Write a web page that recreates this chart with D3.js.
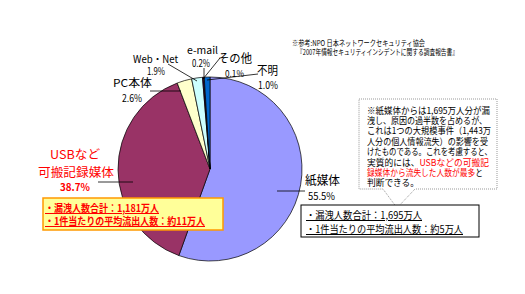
<!DOCTYPE html>
<html>
<head>
<meta charset="utf-8">
<script src="https://d3js.org/d3.v7.min.js"></script>
<style>
  body { margin: 0; background: #fff; }
  svg text { font-family: "Noto Sans CJK JP", "Noto Sans", sans-serif; }
</style>
</head>
<body>
<svg id="chart" width="525" height="294"></svg>
<script>
// slices clockwise from 12 o'clock
const categories = ['紙媒体', 'USBなど可搬記録媒体', 'PC本体', 'Web・Net', 'e-mail', 'その他', '不明'];
const shares = [55.5, 38.7, 2.6, 1.9, 0.2, 0.1, 1.0];
const fills = ['#9999FF', '#993366', '#FFFFCC', '#CCFFFF', '#660066', '#FF8080', '#0066CC'];

const noteLines = ['※参考:NPO  日本ネットワークセキュリティ協会', '『2007年情報セキュリティインシデントに関する調査報告書』'];
const usbBox = ['・漏洩人数合計：1,181万人', '・1件当たりの平均流出人数：約11万人'];
const paperBox = ['・漏洩人数合計：1,695万人', '・1件当たりの平均流出人数：約5万人'];
const calloutLines = [
  [['※紙媒体からは1,695万人分が漏', '#000']],
  [['洩し、原因の過半数を占めるが、', '#000']],
  [['これは1つの大規模事件（1,443万', '#000']],
  [['人分の個人情報流失）の影響を受', '#000']],
  [['けたものである。これを考慮すると、', '#000']],
  [['実質的には、', '#000'], ['USBなどの可搬記', '#FF0000']],
  [['録媒体から流失した人数が最多', '#FF0000'], ['と', '#000']],
  [['判断できる。', '#000']]
];

const svg = d3.select('#chart');
const cx = 210, cy = 169, r = 92;

const pie = d3.pie().sort(null).value(d => d)(shares);
const arc = d3.arc().innerRadius(0).outerRadius(r);

svg.append('g')
  .attr('transform', `translate(${cx},${cy})`)
  .selectAll('path')
  .data(pie)
  .join('path')
  .attr('d', arc)
  .attr('fill', (d, i) => fills[i])
  .attr('stroke', '#000')
  .attr('stroke-width', 0.7);

// leader lines
const leaders = [
  [277, 191, 305, 191],
  [98, 182, 133, 182],
  [150, 91, 181, 91],
  [168, 64, 197, 81],
  [204, 68, 204, 79],
  [220, 58, 203, 79],
  [207, 80, 258, 74]
];
svg.append('g').selectAll('line').data(leaders).join('line')
  .attr('x1', d => d[0]).attr('y1', d => d[1])
  .attr('x2', d => d[2]).attr('y2', d => d[3])
  .attr('stroke', '#000').attr('stroke-width', 0.8);

function label(x, y, txt, size, opts = {}) {
  const t = svg.append('text')
    .attr('x', x).attr('y', y)
    .attr('font-size', size)
    .attr('fill', opts.fill || '#000')
    .attr('font-weight', opts.bold ? 'bold' : null)
    .attr('text-anchor', opts.anchor || 'start')
    .text(txt);
  if (opts.len) t.attr('textLength', opts.len).attr('lengthAdjust', 'spacingAndGlyphs');
  return t;
}

// slice labels
label(305, 185, categories[0], 12, { len: 35 });
label(308, 200, shares[0].toFixed(1) + '%', 10, { len: 27 });
label(50, 159, 'USBなど', 12, { fill: '#FF0000', len: 50 });
label(38, 177, '可搬記録媒体', 12, { fill: '#FF0000', len: 76 });
label(60, 191, shares[1].toFixed(1) + '%', 10, { fill: '#FF0000', bold: true, len: 30 });
label(113, 87, categories[2], 11, { len: 39 });
label(122, 102, shares[2].toFixed(1) + '%', 10, { len: 20 });
label(133, 63, categories[3], 10, { len: 45 });
label(147, 75, shares[3].toFixed(1) + '%', 10, { len: 18 });
label(187, 54, categories[4], 10, { len: 31 });
label(192, 67, shares[4].toFixed(1) + '%', 10, { len: 18 });
label(218, 63, categories[5], 12, { len: 34 });
label(225, 77, shares[5].toFixed(1) + '%', 9.5, { len: 19 });
label(257, 75, categories[6], 12, { len: 21 });
label(258, 89, shares[6].toFixed(1) + '%', 10, { len: 20 });

// source note
label(292, 46, noteLines[0], 8, { len: 133 });
label(297, 55, noteLines[1], 8, { len: 161 });

// USB summary box
svg.append('rect').attr('x', 43).attr('y', 198).attr('width', 180).attr('height', 32)
  .attr('fill', '#FFFF99').attr('stroke', '#FF9900').attr('stroke-width', 1.5);
label(45, 212, usbBox[0], 10, { fill: '#FF0000', bold: true, len: 114 })
  .attr('text-decoration', 'underline');
label(45, 225, usbBox[1], 10, { fill: '#FF0000', bold: true, len: 160 })
  .attr('text-decoration', 'underline');

// callout
svg.append('path')
  .attr('d', 'M359,99 H497 V189 H415 L397,208 L383,189 H359 Z')
  .attr('fill', '#fff').attr('stroke', '#999').attr('stroke-width', 1)
  .attr('stroke-dasharray', '1,1');
const calloutLen = [123, 120, 124, 121, 125, 122, 116, 52];
calloutLines.forEach((parts, i) => {
  const t = svg.append('text').attr('x', 367).attr('y', 113.5 + i * 10.4)
    .attr('font-size', 9)
    .attr('textLength', calloutLen[i]).attr('lengthAdjust', 'spacingAndGlyphs');
  parts.forEach(p => t.append('tspan').attr('fill', p[1]).text(p[0]));
});

// paper summary box
svg.append('rect').attr('x', 301).attr('y', 205).attr('width', 178).attr('height', 32)
  .attr('fill', '#fff').attr('stroke', '#000').attr('stroke-width', 1);
label(306, 219, paperBox[0], 10, { len: 116 }).attr('text-decoration', 'underline');
label(306, 233, paperBox[1], 10, { len: 157 }).attr('text-decoration', 'underline');
</script>
</body>
</html>
